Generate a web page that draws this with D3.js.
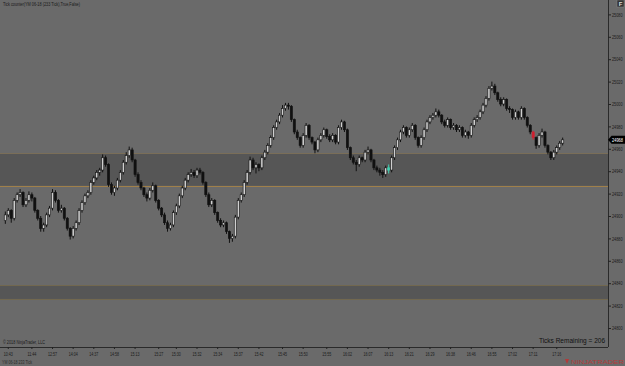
<!DOCTYPE html>
<html>
<head>
<meta charset="utf-8">
<script src="https://cdn.jsdelivr.net/npm/d3@7"></script>
<style>
  html, body { margin: 0; padding: 0; background: #6a6a6a; }
  svg { display: block; font-family: "Liberation Sans", Arial, sans-serif; }
</style>
</head>
<body>
<div id="chart"></div>
<script>
const width = 625;
const height = 366;

// 233 tick bars, [open, high, low, close]
const bars = [
  [24896,24904,24893,24901],[24901,24907,24899,24905],[24905,24906,24894,24898],[24898,24916,24896,24914],
  [24914,24921,24912,24919],[24919,24924,24917,24921],[24921,24922,24908,24910],[24910,24916,24908,24914],
  [24914,24922,24912,24919],[24919,24921,24913,24916],[24916,24917,24903,24905],[24905,24906,24896,24898],
  [24898,24900,24886,24889],[24889,24894,24886,24892],[24892,24903,24890,24901],[24901,24909,24899,24907],
  [24907,24924,24905,24921],[24921,24923,24912,24914],[24914,24915,24903,24905],[24905,24910,24903,24907],
  [24907,24908,24896,24898],[24898,24899,24887,24889],[24889,24890,24879,24882],[24882,24891,24880,24889],
  [24889,24896,24887,24894],[24894,24907,24892,24905],[24905,24914,24903,24912],[24912,24920,24910,24918],
  [24918,24923,24916,24921],[24921,24932,24919,24930],[24930,24936,24928,24934],[24934,24941,24932,24939],
  [24939,24943,24936,24941],[24941,24955,24939,24952],[24952,24954,24944,24946],[24946,24947,24926,24928],
  [24928,24930,24919,24921],[24921,24927,24918,24925],[24925,24934,24923,24932],[24932,24941,24930,24939],
  [24939,24950,24937,24948],[24948,24957,24946,24954],[24954,24962,24952,24959],[24959,24961,24948,24950],
  [24950,24951,24935,24937],[24937,24939,24928,24930],[24930,24932,24923,24925],[24925,24926,24917,24919],
  [24919,24921,24913,24916],[24916,24925,24914,24923],[24923,24930,24921,24927],[24927,24928,24912,24914],
  [24914,24915,24905,24907],[24907,24908,24899,24901],[24901,24903,24892,24894],[24894,24896,24886,24889],
  [24889,24894,24887,24892],[24892,24905,24890,24903],[24903,24911,24901,24909],[24909,24920,24907,24918],
  [24918,24927,24916,24925],[24925,24934,24923,24932],[24932,24939,24930,24937],[24937,24942,24935,24939],
  [24939,24941,24934,24936],[24936,24943,24934,24941],[24941,24943,24937,24939],[24939,24940,24928,24930],
  [24930,24931,24917,24919],[24919,24921,24908,24910],[24910,24916,24908,24914],[24914,24915,24901,24903],
  [24903,24904,24894,24896],[24896,24898,24890,24892],[24892,24896,24890,24894],[24894,24895,24884,24886],
  [24886,24887,24876,24880],[24880,24884,24877,24882],[24882,24901,24880,24899],[24899,24916,24897,24914],
  [24914,24921,24912,24919],[24919,24932,24917,24930],[24930,24941,24928,24939],[24939,24953,24937,24950],
  [24950,24952,24941,24943],[24943,24948,24938,24946],[24946,24947,24940,24943],[24943,24954,24941,24952],
  [24952,24959,24950,24957],[24957,24965,24955,24963],[24963,24972,24961,24970],[24970,24981,24968,24979],
  [24979,24986,24977,24984],[24984,24992,24982,24990],[24990,24999,24988,24996],[24996,25001,24994,24999],
  [24999,25001,24995,24998],[24998,24999,24984,24986],[24986,24987,24973,24975],[24975,24977,24968,24970],
  [24970,24971,24961,24963],[24963,24974,24961,24972],[24972,24983,24970,24981],[24981,24982,24968,24970],
  [24970,24971,24964,24966],[24966,24967,24956,24959],[24959,24970,24957,24968],[24968,24974,24966,24972],
  [24972,24979,24970,24977],[24977,24978,24969,24971],[24971,24973,24966,24968],[24968,24974,24966,24972],
  [24972,24973,24964,24966],[24966,24981,24964,24979],[24979,24986,24977,24984],[24984,24985,24975,24977],
  [24977,24978,24959,24961],[24961,24962,24950,24952],[24952,24954,24946,24948],[24948,24950,24940,24946],
  [24946,24954,24944,24952],[24952,24953,24948,24950],[24950,24959,24948,24957],[24957,24962,24955,24959],
  [24959,24960,24948,24950],[24950,24951,24941,24943],[24943,24945,24939,24941],[24941,24943,24936,24939],
  [24939,24941,24934,24937],[24937,24945,24935,24943],[24943,24946,24938,24941],[24941,24954,24939,24952],
  [24952,24963,24950,24961],[24961,24970,24959,24968],[24968,24977,24966,24975],[24975,24981,24973,24979],
  [24979,24980,24970,24972],[24972,24979,24970,24977],[24977,24983,24975,24981],[24981,24982,24968,24970],
  [24970,24971,24961,24963],[24963,24972,24961,24970],[24970,24979,24968,24977],[24977,24986,24975,24984],
  [24984,24990,24982,24988],[24988,24992,24986,24990],[24990,24996,24988,24993],[24993,24995,24988,24990],
  [24990,24991,24982,24984],[24984,24986,24979,24981],[24981,24988,24979,24986],[24986,24987,24977,24979],
  [24979,24983,24977,24981],[24981,24982,24975,24977],[24977,24981,24975,24979],[24979,24980,24970,24972],
  [24972,24977,24970,24975],[24975,24976,24969,24972],[24972,24983,24970,24981],[24981,24988,24979,24986],
  [24986,24990,24984,24988],[24988,24995,24986,24993],[24993,25001,24991,24999],[24999,25007,24997,25005],
  [25005,25016,25003,25014],[25014,25020,25012,25016],[25016,25018,25008,25010],[25010,25011,25002,25004],
  [25004,25006,24998,25000],[25000,25006,24998,25004],[25004,25005,24994,24996],[24996,24998,24992,24995],
  [24995,24996,24986,24988],[24988,24995,24986,24993],[24993,24994,24986,24988],[24988,24998,24986,24996],
  [24996,24997,24986,24988],[24988,24989,24979,24981],[24981,24982,24973,24975],[24975,24976,24968,24970],
  [24970,24971,24960,24963],[24963,24974,24961,24972],[24972,24978,24970,24975],[24975,24976,24961,24963],
  [24963,24964,24955,24957],[24957,24958,24950,24952],[24952,24959,24950,24957],[24957,24963,24955,24961],
  [24961,24967,24959,24965],[24965,24970,24963,24968]
];

// bars painted by an indicator
const markedBars = [
  { index: 130, color: '#3fd0b0' },
  { index: 179, color: '#d02030' }
];

// shaded price zones [low, high]
const zones = [
  [24927, 24956],
  [24826, 24838]
];

const priceTicks = [24800, 24820, 24840, 24860, 24880, 24900, 24920, 24940, 24960, 24980, 25000, 25020, 25040, 25060, 25080];

const timeLabels = [
  { index: 1, label: '10:43' }, { index: 9, label: '11:44' }, { index: 16, label: '12:57' },
  { index: 23, label: '14:04' }, { index: 30, label: '14:37' }, { index: 37, label: '14:58' },
  { index: 44, label: '15:13' }, { index: 52, label: '15:27' }, { index: 58, label: '15:30' },
  { index: 65, label: '15:32' }, { index: 72, label: '15:34' }, { index: 79, label: '15:37' },
  { index: 86, label: '15:42' }, { index: 94, label: '15:45' }, { index: 101, label: '15:50' },
  { index: 109, label: '15:55' }, { index: 116, label: '16:02' }, { index: 123, label: '16:07' },
  { index: 130, label: '16:13' }, { index: 137, label: '16:21' }, { index: 144, label: '16:29' },
  { index: 151, label: '16:38' }, { index: 158, label: '16:46' }, { index: 165, label: '16:55' },
  { index: 172, label: '17:02' }, { index: 179, label: '17:11' }, { index: 187, label: '17:16' }
];

const plot = { left: 0, right: 608, top: 0, bottom: 347 };

const x = d3.scaleBand()
  .domain(d3.range(bars.length))
  .range([3.5, 564.5])
  .padding(0.25);

const y = d3.scaleLinear()
  .domain([24800, 25000])
  .range([328, 104]);

const svg = d3.select('#chart')
  .append('svg')
  .attr('width', width)
  .attr('height', height);

svg.append('rect')
  .attr('width', width)
  .attr('height', height)
  .attr('fill', '#6a6a6a');

// zones
svg.append('g')
  .selectAll('rect')
  .data(zones)
  .enter()
  .append('rect')
  .attr('x', plot.left)
  .attr('width', plot.right - plot.left)
  .attr('y', d => y(d[1]))
  .attr('height', d => y(d[0]) - y(d[1]))
  .attr('fill', '#565656');

const zoneEdges = [
  { price: zones[0][1], color: '#7a6e58' },
  { price: zones[0][0], color: '#a0804a' },
  { price: zones[1][1], color: '#72684f' },
  { price: zones[1][0], color: '#72684f' }
];

svg.append('g')
  .selectAll('line')
  .data(zoneEdges)
  .enter()
  .append('line')
  .attr('x1', plot.left)
  .attr('x2', plot.right)
  .attr('y1', d => Math.round(y(d.price)) + 0.5)
  .attr('y2', d => Math.round(y(d.price)) + 0.5)
  .attr('stroke', d => d.color)
  .attr('stroke-width', 1);

// candles
const markColor = i => {
  const m = markedBars.find(d => d.index === i);
  return m ? m.color : null;
};

const candle = svg.append('g')
  .selectAll('g')
  .data(bars)
  .enter()
  .append('g');

candle.append('line')
  .attr('x1', (d, i) => x(i) + x.bandwidth() / 2)
  .attr('x2', (d, i) => x(i) + x.bandwidth() / 2)
  .attr('y1', d => y(d[1]))
  .attr('y2', d => y(d[2]))
  .attr('stroke', (d, i) => markColor(i) || '#111')
  .attr('stroke-width', 1);

candle.append('rect')
  .attr('x', (d, i) => x(i))
  .attr('width', x.bandwidth())
  .attr('y', d => y(Math.max(d[0], d[3])))
  .attr('height', d => Math.max(1, Math.abs(y(d[0]) - y(d[3]))))
  .attr('fill', (d, i) => markColor(i) || (d[3] >= d[0] ? '#cfcfcf' : '#111'))
  .attr('stroke', (d, i) => markColor(i) || '#111')
  .attr('stroke-width', 0.6);

// frame lines
svg.append('line')
  .attr('x1', plot.right + 0.5)
  .attr('x2', plot.right + 0.5)
  .attr('y1', 0)
  .attr('y2', plot.bottom)
  .attr('stroke', '#2a2a2a');

svg.append('line')
  .attr('x1', 0)
  .attr('x2', plot.right)
  .attr('y1', plot.bottom + 0.5)
  .attr('y2', plot.bottom + 0.5)
  .attr('stroke', '#2a2a2a');

// price axis
const yAxis = svg.append('g')
  .attr('transform', `translate(${plot.right},0)`)
  .call(d3.axisRight(y).tickValues(priceTicks).tickSize(3).tickPadding(1).tickFormat(d3.format('d')));
yAxis.select('.domain').remove();
yAxis.selectAll('line').attr('stroke', '#222');
yAxis.selectAll('text')
  .attr('font-size', '5px')
  .attr('fill', '#1a1a1a')
  .attr('font-family', 'Liberation Sans, Arial, sans-serif')
  .attr('textLength', 10.5)
  .attr('lengthAdjust', 'spacingAndGlyphs');

// last price tag
const last = bars[bars.length - 1][3];
const tag = svg.append('g').attr('transform', `translate(${plot.right},${y(last)})`);
tag.append('path')
  .attr('d', 'M0,0 L3.5,-4 L17,-4 L17,4 L3.5,4 Z')
  .attr('fill', '#000');
tag.append('text')
  .attr('x', 4)
  .attr('y', 2)
  .attr('font-size', '5px')
  .attr('fill', '#fff')
  .attr('textLength', 11)
  .attr('lengthAdjust', 'spacingAndGlyphs')
  .text(last);

// time axis
const xAxis = svg.append('g')
  .attr('transform', `translate(0,${plot.bottom})`)
  .call(d3.axisBottom(x)
    .tickValues(timeLabels.map(d => d.index))
    .tickFormat(i => timeLabels.find(d => d.index === i).label)
    .tickSize(2)
    .tickPadding(3));
xAxis.select('.domain').remove();
xAxis.selectAll('line').attr('stroke', '#222');
xAxis.selectAll('text')
  .attr('font-size', '5px')
  .attr('fill', '#1a1a1a')
  .attr('font-family', 'Liberation Sans, Arial, sans-serif')
  .attr('textLength', 9)
  .attr('lengthAdjust', 'spacingAndGlyphs');

// texts
svg.append('text')
  .attr('x', 3).attr('y', 6)
  .attr('font-size', '5px').attr('fill', '#1a1a1a')
  .attr('textLength', 77).attr('lengthAdjust', 'spacingAndGlyphs')
  .text('Tick counter(YM 06-18 (233 Tick),True,False)');

svg.append('text')
  .attr('x', 3).attr('y', 344)
  .attr('font-size', '5px').attr('fill', '#1a1a1a')
  .attr('textLength', 42).attr('lengthAdjust', 'spacingAndGlyphs')
  .text('© 2018 NinjaTrader, LLC');

svg.append('text')
  .attr('x', 2).attr('y', 364)
  .attr('font-size', '4.5px').attr('fill', '#2a2a2a')
  .attr('textLength', 30).attr('lengthAdjust', 'spacingAndGlyphs')
  .text('YM 06-18 233 Tick');

svg.append('text')
  .attr('x', 605).attr('y', 343)
  .attr('text-anchor', 'end')
  .attr('font-size', '6.5px').attr('fill', '#111')
  .text('Ticks Remaining = 206');

svg.append('rect')
  .attr('x', 617).attr('y', 0).attr('width', 7).attr('height', 7)
  .attr('fill', '#333').attr('stroke', '#888').attr('stroke-width', 0.5);
svg.append('text')
  .attr('x', 620.5).attr('y', 5.5)
  .attr('text-anchor', 'middle')
  .attr('font-size', '6px').attr('font-weight', 'bold').attr('fill', '#ddd')
  .text('F');

// logo
svg.append('path')
  .attr('d', 'M565,359 L569,359 L567,364 Z')
  .attr('fill', '#b43a3a');
svg.append('text')
  .attr('x', 571).attr('y', 364)
  .attr('font-size', '6px').attr('fill', '#b43a3a')
  .attr('textLength', 53).attr('lengthAdjust', 'spacingAndGlyphs')
  .text('NINJATRADER');
</script>
</body>
</html>
